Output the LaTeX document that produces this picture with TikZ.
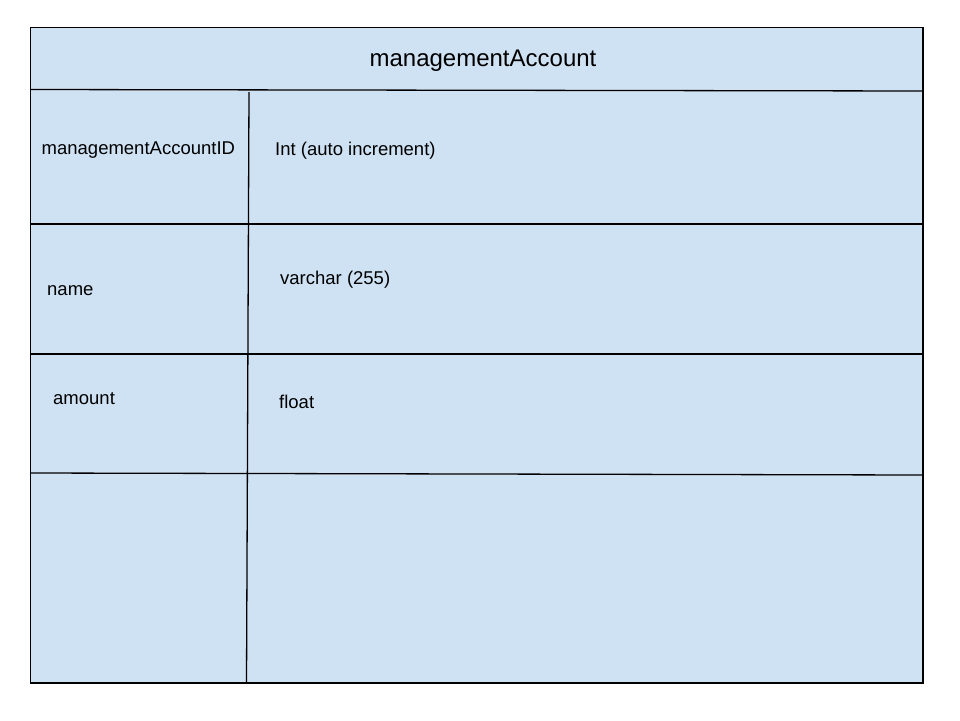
\documentclass[tikz,border=0pt]{standalone}
\usepackage{fontspec}
\setmainfont{Liberation Sans}
\definecolor{cellblue}{HTML}{CFE2F3}
\begin{document}
\begin{tikzpicture}[
       x=1pt,y=-1pt,
       rule/.style={
         black,
         line width=1.3pt
       },
       cell/.style={
         anchor=base west,
         inner sep=0pt,
         font=\fontsize{18.5}{22}\selectfont
       },
       heading/.style={
         anchor=base,
         inner sep=0pt,
         font=\fontsize{24}{28}\selectfont
       }
     ]

       \useasboundingbox (0,0) rectangle (960,720);

       \coordinate (tl) at (30.5,27.5);
       \coordinate (br) at (923,683);

       \coordinate (h1l) at (30.5,89.5);  \coordinate (h1r) at (923,91);
       \coordinate (h2l) at (30.5,224);   \coordinate (h2r) at (923,224);
       \coordinate (h3l) at (30.5,354);   \coordinate (h3r) at (923,354);
       \coordinate (h4l) at (30.5,473);   \coordinate (h4r) at (923,475);
       \coordinate (vt) at (249,92);      \coordinate (vb) at (246.5,683);

       \fill[cellblue] (tl) rectangle (br);

       \draw[rule] (h1l) -- (h1r);
       \draw[rule] (h2l) -- (h2r);
       \draw[rule] (h3l) -- (h3r);
       \draw[rule] (h4l) -- (h4r);
       \draw[rule] (vt) -- (vb);

       \draw[black,line width=1.6pt] (tl) rectangle (br);

       \node (title) at (483,66) [heading]{managementAccount};

       \node (k1) at (41.5,154) [cell]{managementAccountID};
       \node (t1) at (275,155) [cell]{Int (auto increment)};
       \node (k2) at (47,295) [cell]{name};
       \node (t2) at (280,284) [cell]{varchar (255)};
       \node (k3) at (53,404) [cell]{amount};
       \node (t3) at (279,408) [cell]{float};

\end{tikzpicture}
\end{document}
